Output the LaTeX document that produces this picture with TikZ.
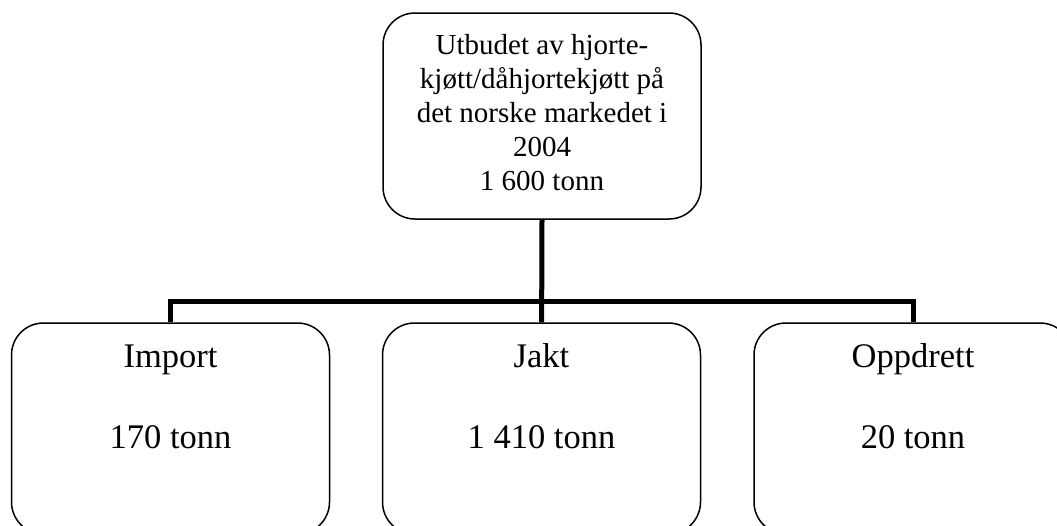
\documentclass[tikz,border=0pt]{standalone}
\usepackage{fontspec}
\setmainfont{Liberation Serif}
\begin{document}
\begin{tikzpicture}[x=1pt,y=-1pt,
  box/.style={draw=black, line width=1.5pt, rounded corners=32pt, minimum width=318pt, inner sep=0pt},
  conn/.style={draw=black, line width=5pt},
  toptext/.style={align=center, inner sep=0pt, font=\fontsize{29}{34}\selectfont},
  bottext/.style={inner sep=0pt, font=\fontsize{34.5}{40.5}\selectfont}]
\clip (0,0) rectangle (1057,525);
\fill[white] (0,0) rectangle (1057,525);
% top box
\node[box, minimum height=206pt] (top) at (542,116) {};
\node[toptext, anchor=north] (toplbl) at (542,34.2)
  {Utbudet av hjorte-\\kjøtt/dåhjortekjøtt på\\det norske markedet i\\2004\\1 600 tonn};
% bottom boxes
\node[box, minimum height=211pt] (imp) at (170.5,428.5) {};
\node[box, minimum height=211pt] (jakt) at (541.5,428.5) {};
\node[box, minimum height=211pt] (opp) at (913,428.5) {};
\node[bottext, anchor=base] (impa) at (170.5,367) {Import};
\node[bottext, anchor=base] (impb) at (170.5,448) {170 tonn};
\node[bottext, anchor=base] (jakta) at (541.5,367) {Jakt};
\node[bottext, anchor=base] (jaktb) at (541.5,448) {1 410 tonn};
\node[bottext, anchor=base] (oppa) at (913,367) {Oppdrett};
\node[bottext, anchor=base] (oppb) at (913,448) {20 tonn};
% connectors
\coordinate (junc) at (541.7,301);
\draw[conn] (top.south) -- (junc);
\draw[conn] (imp.north) |- (junc) -| (opp.north);
\draw[conn] (junc) -- (jakt.north);
\end{tikzpicture}
\end{document}
